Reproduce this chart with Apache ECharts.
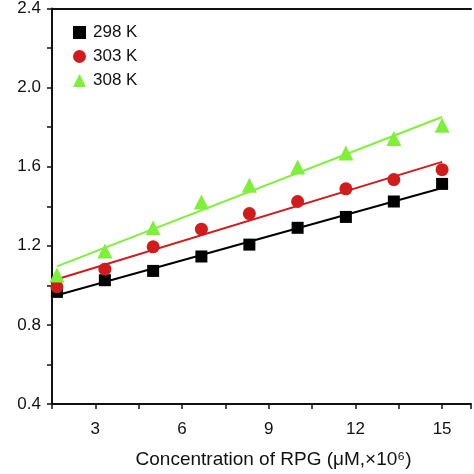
<!DOCTYPE html>
<html><head><meta charset="utf-8">
<script src="https://cdn.jsdelivr.net/npm/echarts@6/dist/echarts.min.js"></script>
<style>html,body{margin:0;padding:0;background:#fff}#c{width:474px;height:474px}</style>
</head><body><div id="c"></div>
<script>
const concentrations = [1.67, 3.33, 5.0, 6.67, 8.33, 10.0, 11.67, 13.33, 15.0];
const k298 = [0.967, 1.026, 1.073, 1.146, 1.206, 1.291, 1.346, 1.424, 1.513];
const k303 = [0.993, 1.082, 1.195, 1.284, 1.363, 1.424, 1.488, 1.535, 1.585];
const k308 = [1.052, 1.174, 1.291, 1.422, 1.506, 1.599, 1.669, 1.742, 1.809];
const seriesNames = ['298 K', '303 K', '308 K'];
const colors = ['#000000', '#d01c1c', '#7ef03a'];
const symbols = ['rect', 'circle', 'triangle'];
const sizes = [12, 13, 15];

function fit(xs, ys) {
  const n = xs.length;
  const mx = xs.reduce((a, b) => a + b, 0) / n;
  const my = ys.reduce((a, b) => a + b, 0) / n;
  let sxy = 0, sxx = 0;
  for (let i = 0; i < n; i++) { sxy += (xs[i] - mx) * (ys[i] - my); sxx += (xs[i] - mx) ** 2; }
  const b = sxy / sxx, a = my - b * mx;
  return [[xs[0], a + b * xs[0]], [xs[n - 1], a + b * xs[n - 1]]];
}

const FONT = 'Liberation Sans, Arial, sans-serif';
const sets = [k298, k303, k308];
const series = [];
sets.forEach((ys, i) => {
  series.push({
    type: 'line', data: fit(concentrations, ys), showSymbol: false, silent: true,
    lineStyle: { color: colors[i], width: 2 }, z: 1
  });
});
sets.forEach((ys, i) => {
  series.push({
    name: seriesNames[i], type: 'scatter', symbol: symbols[i], symbolSize: sizes[i],
    data: concentrations.map((x, j) => [x, ys[j]]),
    itemStyle: { color: colors[i], opacity: 1 }, z: 3
  });
});

const chart = echarts.init(document.getElementById('c'));
chart.setOption({
  animation: false,
  backgroundColor: '#fff',
  grid: { left: 52, top: 8, right: -1, bottom: 70, containLabel: false },
  legend: {
    data: seriesNames, orient: 'vertical', left: 68, top: 19, itemGap: 7,
    itemWidth: 13, itemHeight: 13,
    itemStyle: { opacity: 1 },
    textStyle: { fontFamily: FONT, fontSize: 17, color: '#111', padding: [0, 0, 0, 2] }
  },
  xAxis: [{
    type: 'value', min: 1.5, max: 16, interval: 1.5,
    name: 'Concentration of RPG (\u03bcM,\u00d710\u2076)', nameLocation: 'middle', nameGap: 46,
    nameTextStyle: { fontFamily: FONT, fontSize: 19, color: '#111', padding: [0, 0, 0, 24] },
    axisLine: { lineStyle: { color: '#111', width: 2 } },
    axisTick: { inside: false, length: 5, lineStyle: { color: '#111', width: 1.5 } },
    axisLabel: {
      fontFamily: FONT, fontSize: 17, color: '#111', margin: 17,
      formatter: v => (Math.abs(Math.round(v / 3) * 3 - v) < 1e-6 ? String(Math.round(v)) : '')
    },
    splitLine: { show: false }
  }, {
    type: 'value', position: 'top', min: 1.5, max: 16,
    axisLine: { show: true, lineStyle: { color: '#111', width: 2 } },
    axisTick: { show: false }, axisLabel: { show: false }, splitLine: { show: false }
  }],
  yAxis: {
    type: 'value', min: 0.4, max: 2.4, interval: 0.2,
    axisLine: { show: true, lineStyle: { color: '#111', width: 2 } },
    axisTick: { inside: false, length: 5, lineStyle: { color: '#111', width: 1.5 } },
    axisLabel: {
      fontFamily: FONT, fontSize: 17, color: '#111', margin: 11,
      formatter: v => (Math.round(v * 10) % 4 === 0 ? v.toFixed(1) : '')
    },
    splitLine: { show: false }
  },
  series: series
});
</script></body></html>
